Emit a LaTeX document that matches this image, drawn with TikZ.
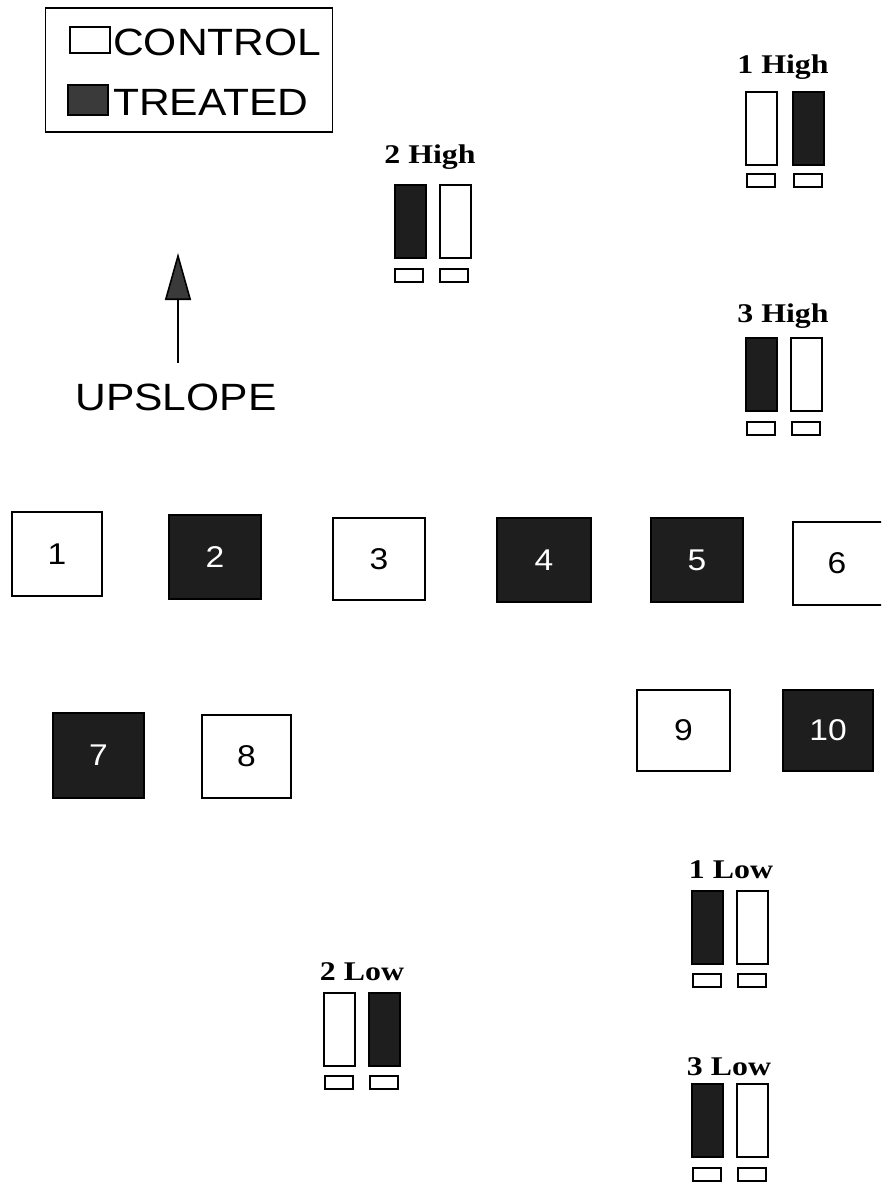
\documentclass[tikz,border=0pt]{standalone}
\usepackage{fontspec}
\setmainfont{Liberation Serif}
\setsansfont{Liberation Sans}
\usepackage{graphicx}
\usetikzlibrary{arrows.meta}
\definecolor{treat}{HTML}{1E1E1E}
\definecolor{keytreat}{HTML}{3A3A3A}
\newcommand\sansat[1]{\sffamily\fontsize{#1}{#1}\selectfont}
\newcommand\wide[1]{\scalebox{1.12}[1]{#1}}
\newcommand\wider[1]{\scalebox{1.18}[1]{#1}}

\begin{document}
\begin{tikzpicture}[x=1pt,y=-1pt,
  plotbox/.style={draw=black, line width=2.2, inner sep=0, font=\sansat{30}},
  ctrlplot/.style={plotbox, fill=white, text=black},
  trtplot/.style={plotbox, fill=treat, text=white},
  bar/.style={draw=black, line width=2, minimum width=31, minimum height=73, inner sep=0},
  ctrlbar/.style={bar, fill=white},
  trtbar/.style={bar, fill=treat},
  tag/.style={draw=black, line width=2, minimum width=28, minimum height=13, inner sep=0, fill=white},
  grouplabel/.style={anchor=base, inner sep=0, font=\bfseries\fontsize{27}{27}\selectfont},
  keytext/.style={anchor=base west, inner sep=0, font=\sansat{38}}]

\useasboundingbox (0,0) rectangle (881,1183);
\clip (0,0) rectangle (881,1183);

% legend
\node[draw=black, line width=1.6, minimum width=287, minimum height=124, inner sep=0] (key) at (189,70) {};
\node[draw=black, line width=1.6, fill=white, minimum width=40, minimum height=26, inner sep=0] (keyctrl) at (90,40) {};
\node[draw=black, line width=1.6, fill=keytreat, minimum width=40, minimum height=30, inner sep=0] (keytrt) at (88,100) {};
\node[keytext] (keyctrltext) at (113,55) {\wide{CONTROL}};
\node[keytext] (keytrttext) at (113,115) {\wide{TREATED}};

% slope direction
\coordinate (slopebase) at (178,363);
\coordinate (slopetip) at (178,253);
\draw[line width=1.6, -{Triangle[width=26, length=47, fill=keytreat]}] (slopebase) -- (slopetip);
\node[anchor=base, inner sep=0, font=\sansat{38}] (slopetext) at (176,410) {\wide{UPSLOPE}};

% field plots
\node[ctrlplot, minimum width=90, minimum height=84] (p1) at (57,554) {\wide{1}};
\node[trtplot, minimum width=92, minimum height=84] (p2) at (215,557) {\wide{2}};
\node[ctrlplot, minimum width=92, minimum height=82] (p3) at (379,559) {\wide{3}};
\node[trtplot, minimum width=94, minimum height=84] (p4) at (544,560) {\wide{4}};
\node[trtplot, minimum width=92, minimum height=84] (p5) at (697,560) {\wide{5}};
\node[ctrlplot, minimum width=92, minimum height=83] (p6) at (839,563.5) {\hspace*{-4pt}\wide{6}};
\node[trtplot, minimum width=91, minimum height=85] (p7) at (98.5,755.5) {\wide{7}};
\node[ctrlplot, minimum width=89, minimum height=83] (p8) at (246.5,756.5) {\wide{8}};
\node[ctrlplot, minimum width=93, minimum height=81] (p9) at (683.5,730.5) {\wide{9}};
\node[trtplot, minimum width=90, minimum height=81] (p10) at (828,730.5) {\wide{10}};

% 1 High
\node[grouplabel] (h1label) at (783,73) {\wider{1 High}};
\node[ctrlbar] (h1a) at (761.5,128.5) {};
\node[trtbar] (h1b) at (808.5,128.5) {};
\node[tag] (h1atag) at (761,180) {};
\node[tag] (h1btag) at (808,180) {};

% 2 High
\node[grouplabel] (h2label) at (430,163) {\wider{2 High}};
\node[trtbar] (h2a) at (410.5,221.5) {};
\node[ctrlbar] (h2b) at (455.5,221.5) {};
\node[tag] (h2atag) at (409,275) {};
\node[tag] (h2btag) at (454,275) {};

% 3 High
\node[grouplabel] (h3label) at (783,322) {\wider{3 High}};
\node[trtbar] (h3a) at (761.5,374.5) {};
\node[ctrlbar] (h3b) at (806.5,374.5) {};
\node[tag] (h3atag) at (761,428) {};
\node[tag] (h3btag) at (806,428) {};

% 1 Low
\node[grouplabel] (l1label) at (731,878) {\wider{1 Low}};
\node[trtbar] (l1a) at (707.5,927.5) {};
\node[ctrlbar] (l1b) at (752.5,927.5) {};
\node[tag] (l1atag) at (707,980) {};
\node[tag] (l1btag) at (752,980) {};

% 2 Low
\node[grouplabel] (l2label) at (362,980) {\wider{2 Low}};
\node[ctrlbar] (l2a) at (339.5,1029.5) {};
\node[trtbar] (l2b) at (384.5,1029.5) {};
\node[tag] (l2atag) at (339,1082) {};
\node[tag] (l2btag) at (384,1082) {};

% 3 Low
\node[grouplabel] (l3label) at (729,1075) {\wider{3 Low}};
\node[trtbar] (l3a) at (707.5,1120.5) {};
\node[ctrlbar] (l3b) at (752.5,1120.5) {};
\node[tag] (l3atag) at (707,1174) {};
\node[tag] (l3btag) at (752,1174) {};

\end{tikzpicture}
\end{document}
